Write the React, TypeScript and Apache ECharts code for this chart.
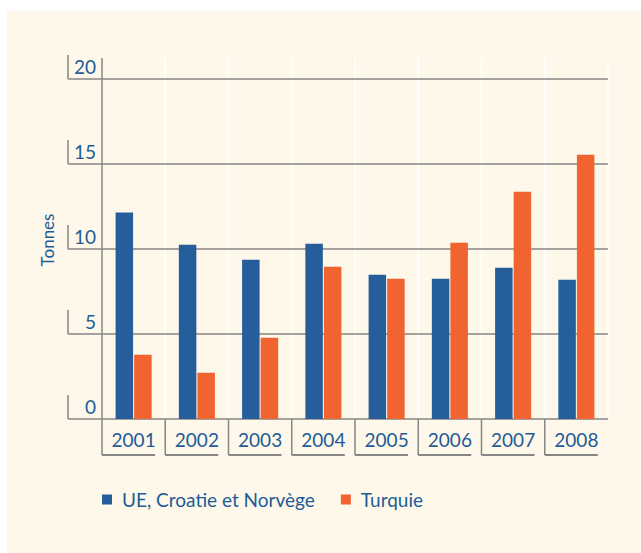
import React, { useEffect, useRef } from "react";
import * as echarts from "echarts";

const categories = ["2001", "2002", "2003", "2004", "2005", "2006", "2007", "2008"];
const ueValues = [12.14, 10.25, 9.37, 10.31, 8.49, 8.25, 8.9, 8.19];
const turquieValues = [3.78, 2.72, 4.78, 8.96, 8.25, 10.37, 13.37, 15.55];
const yTicks = [0, 5, 10, 15, 20];
const seriesNames = ["UE, Croatie et Norvège", "Turquie"];
const yAxisTitle = "Tonnes";

const BLUE = "#265e9b";
const ORANGE = "#f16430";
const TEXT = "#1f5b98";
const GRAY = "#868686";
const CREAM = "#fdf8e9";
const FONT = "Lato, 'Noto Sans', sans-serif";

export default function App() {
  const ref = useRef<HTMLDivElement>(null);
  useEffect(() => {
    const chart = echarts.init(ref.current!, null, { renderer: "svg" });
    chart.setOption({
      animation: false,
      backgroundColor: "transparent",
      grid: { left: 102, right: 33, top: 79, bottom: 134, containLabel: false },
      legend: {
        left: 102,
        top: 490,
        padding: 0,
        itemWidth: 10,
        itemHeight: 10,
        itemGap: 26,
        icon: "rect",
        data: seriesNames,
        textStyle: { fontSize: 19, color: TEXT, fontFamily: FONT, padding: [0, 0, 0, 5] },
      },
      xAxis: {
        type: "category",
        data: categories,
        boundaryGap: true,
        axisLine: { show: false },
        axisTick: { show: false },
        splitLine: { show: false },
        axisLabel: { fontSize: 19, color: TEXT, fontFamily: FONT, margin: 11 },
      },
      yAxis: {
        type: "value",
        min: 0,
        max: 20,
        interval: 5,
        z: 1,
        axisLine: { show: false },
        axisTick: { show: true, length: 34, lineStyle: { color: GRAY, width: 1.5 } },
        splitLine: { show: true, lineStyle: { color: GRAY, width: 1.5 } },
        axisLabel: {
          fontSize: 19,
          color: TEXT,
          fontFamily: FONT,
          margin: 6,
          verticalAlign: "bottom",
          lineHeight: 26,
        },
      },
      series: [
        {
          name: seriesNames[0],
          type: "bar",
          data: ueValues,
          barWidth: 17.5,
          barGap: "6%",
          itemStyle: { color: BLUE },
          z: 3,
        },
        {
          name: seriesNames[1],
          type: "bar",
          data: turquieValues,
          barWidth: 17.5,
          barGap: "6%",
          itemStyle: { color: ORANGE },
          z: 3,
        },
      ],
    });

    const px = (i: number) => chart.convertToPixel({ xAxisIndex: 0 }, i) as number;
    const py = (v: number) => chart.convertToPixel({ yAxisIndex: 0 }, v) as number;
    const band = px(1) - px(0);
    const bounds = categories.map((_, i) => px(i) - band / 2);
    bounds.push(px(categories.length - 1) + band / 2);
    const y0 = py(0);
    const yTop = py(yTicks[yTicks.length - 1]) - 21;
    const yBottom = y0 + 36;
    const leftX = bounds[0];

    const g: any[] = [];
    bounds.slice(1).forEach((b) => {
      g.push({
        type: "line",
        z: 0,
        shape: { x1: b, y1: yTop, x2: b, y2: y0 },
        style: { stroke: "#ffffff", lineWidth: 1.5 },
      });
    });
    g.push({
      type: "line",
      z: 2,
      shape: { x1: leftX, y1: yTop, x2: leftX, y2: yBottom },
      style: { stroke: GRAY, lineWidth: 1.5 },
    });
    yTicks.forEach((t) => {
      const y = py(t);
      g.push({
        type: "line",
        z: 2,
        shape: { x1: leftX - 34, y1: y - 24, x2: leftX - 34, y2: y },
        style: { stroke: GRAY, lineWidth: 1.5 },
      });
    });
    categories.forEach((_, i) => {
      const b = bounds[i];
      if (i > 0) {
        g.push({
          type: "line",
          z: 2,
          shape: { x1: b, y1: y0, x2: b, y2: yBottom },
          style: { stroke: GRAY, lineWidth: 1.5 },
        });
      }
      g.push({
        type: "line",
        z: 2,
        shape: { x1: b, y1: yBottom, x2: b + 53, y2: yBottom },
        style: { stroke: GRAY, lineWidth: 2 },
      });
    });
    g.push({
      type: "text",
      x: 47.5,
      y: 240,
      rotation: Math.PI / 2,
      z: 2,
      style: {
        text: yAxisTitle,
        fill: TEXT,
        font: `17px ${FONT}`,
        align: "center",
        verticalAlign: "middle",
        textAlign: "center",
        textVerticalAlign: "middle",
      },
    });
    chart.setOption({ graphic: g });

    return () => chart.dispose();
  }, []);

  return (
    <div style={{ position: "absolute", left: 0, top: 0, width: 641, height: 553, background: "#ffffff" }}>
      <div style={{ position: "absolute", left: 7, top: 11, width: 634, height: 542, background: CREAM }} />
      <div ref={ref} style={{ position: "absolute", left: 0, top: 0, width: 641, height: 553 }} />
    </div>
  );
}
